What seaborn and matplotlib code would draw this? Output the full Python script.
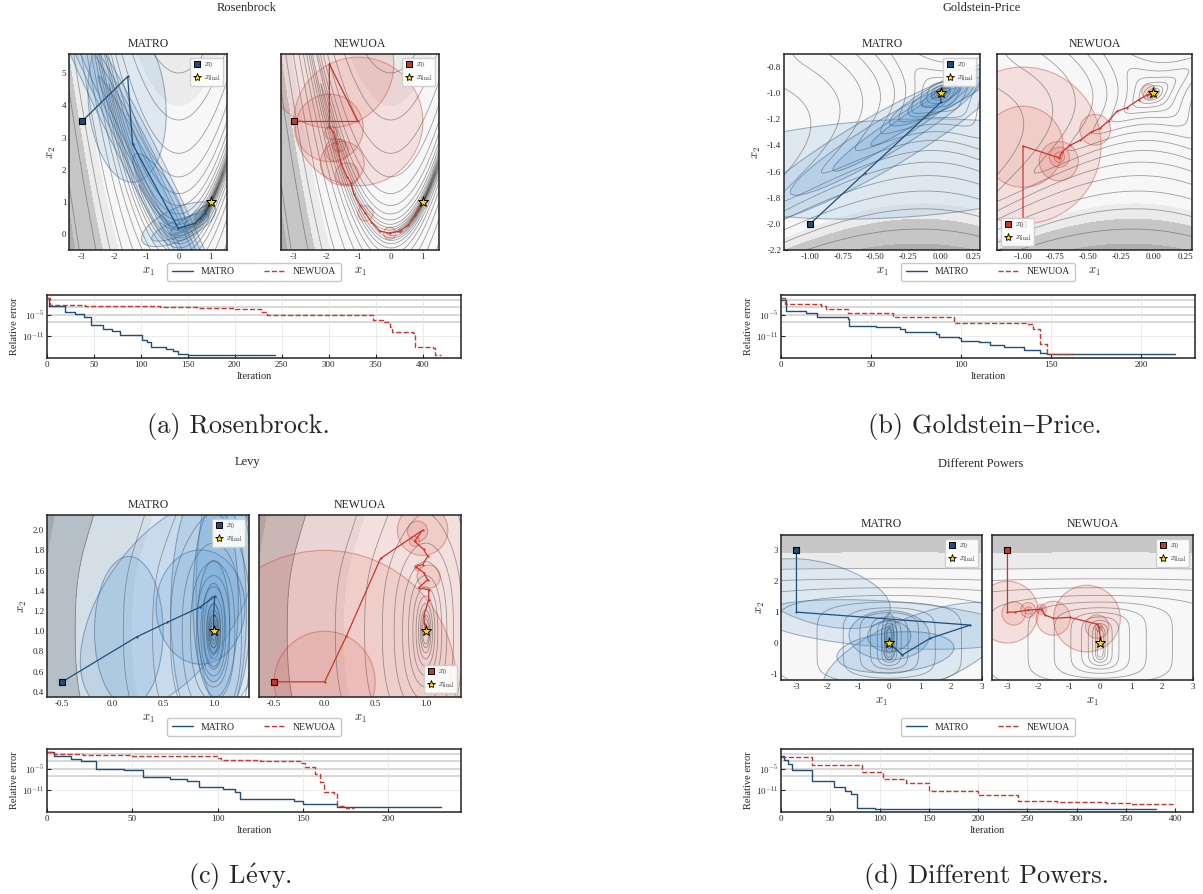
import numpy as np
import matplotlib
matplotlib.use("Agg")
import matplotlib.pyplot as plt
from matplotlib.patches import Ellipse, Circle
from matplotlib.lines import Line2D
from matplotlib.ticker import MultipleLocator, FormatStrFormatter
from matplotlib.colors import to_rgba
import seaborn as sns

sns.set_theme(style="ticks")
plt.rcParams['font.family'] = ['Liberation Serif', 'DejaVu Serif']
plt.rcParams['mathtext.fontset'] = 'cm'
plt.rcParams['axes.unicode_minus'] = False
plt.rcParams['xtick.direction'] = 'in'
plt.rcParams['ytick.direction'] = 'in'

BLUE = "#1f4e79"
BLUE_FILL = "#5b9bd5"
RED = "#c8372d"
RED_FILL = "#e06b60"
FILL_COLORS = ['#f7f7f7', '#ebebeb', '#c6c6c6', '#aeaeae']

# ---------------- Rosenbrock ----------------
ros_matro_x = [-3.0, -1.58, -1.43, -0.01, 0.50, 0.66, 0.82, 0.97, 1.0]
ros_matro_y = [3.5, 4.9, 2.8, 0.17, 0.33, 0.49, 0.64, 0.95, 1.0]
# trust regions: cx, cy, major, minor, angle
ros_matro_ell = [(-1.6, 4.1, 5.0, 2.4, 95), (-1.3, 2.6, 13.0, 1.15, -63),
                 (-1.2, 2.4, 12.0, 0.85, -63), (-1.1, 2.2, 10.0, 0.6, -63),
                 (-0.9, 1.8, 7.0, 0.4, -63), (-0.6, 1.3, 2.8, 0.8, -58),
                 (0.0, 0.3, 2.5, 1.0, 25), (0.05, 0.2, 1.9, 0.5, 22),
                 (0.35, 0.35, 1.4, 0.35, 30), (0.6, 0.55, 1.1, 0.3, 40),
                 (0.75, 0.7, 0.7, 0.2, 48), (0.9, 0.85, 0.35, 0.1, 55)]
ros_newuoa_x = [-3.0, -1.02, -1.9, -1.9, -1.78, -1.68, -1.62, -1.54, -1.35, -1.23,
                -1.14, -0.95, -0.78, -0.6, -0.34, -0.03, 0.29, 0.55, 0.76, 0.94, 1.0]
ros_newuoa_y = [3.5, 3.5, 5.29, 3.32, 3.18, 2.84, 2.6, 2.2, 1.78, 1.58,
                1.24, 0.9, 0.64, 0.38, 0.09, 0.02, 0.09, 0.28, 0.59, 0.95, 1.0]
ros_newuoa_circ = [(-1.0, 3.5, 2.0), (-1.9, 5.3, 2.0), (-1.9, 3.3, 1.05), (-1.85, 3.15, 0.2),
                   (-1.67, 2.6, 0.36), (-1.6, 2.75, 0.2), (-1.5, 2.2, 0.68), (-1.35, 1.85, 0.36),
                   (-0.78, 0.64, 0.24), (-0.03, 0.02, 0.19), (0.3, 0.1, 0.06)]
ros_it_matro = [0, 2, 19, 30, 39, 47, 60, 69, 78, 101, 106, 111, 127, 134, 140, 150, 243]
ros_err_matro = [-0.4, -2.5, -4.2, -4.8, -5.6, -7.9, -9.0, -9.5, -10.5, -12.0, -12.5,
                 -14.0, -14.5, -15.0, -15.8, -16.1, -16.1]
ros_it_newuoa = [0, 3, 40, 80, 120, 160, 200, 228, 234, 347, 358, 365, 368, 390, 392, 411, 413, 420]
ros_err_newuoa = [-0.4, -2.4, -2.5, -2.7, -2.9, -3.2, -3.5, -4.2, -5.2, -6.4, -6.9, -8.3,
                  -9.8, -10.2, -14.0, -14.2, -16.1, -16.1]

# ---------------- Goldstein-Price ----------------
gp_matro_x = [-1.0, -0.58, 0.0, 0.0]
gp_matro_y = [-2.0, -1.61, -1.07, -1.0]
gp_matro_ell = [(-0.4, -1.58, 3.2, 0.75, 3), (-0.5, -1.4, 2.3, 0.42, 30),
                (-0.42, -1.33, 1.7, 0.26, 31), (-0.3, -1.25, 1.25, 0.16, 33),
                (-0.2, -1.18, 0.8, 0.1, 33), (0.05, -1.0, 1.0, 0.2, 28),
                (0.0, -1.04, 0.55, 0.18, 25), (0.0, -1.02, 0.32, 0.1, 25),
                (0.0, -1.0, 0.15, 0.05, 25)]
gp_newuoa_x = [-1.0, -1.0, -0.72, -0.70, -0.64, -0.56, -0.48, -0.41, -0.34, -0.28,
               -0.2, -0.11, -0.05, 0.0]
gp_newuoa_y = [-2.0, -1.405, -1.495, -1.45, -1.40, -1.36, -1.30, -1.27, -1.21, -1.14,
               -1.11, -1.05, -1.015, -1.0]
gp_newuoa_circ = [(-1.0, -1.4, 0.6), (-1.0, -1.41, 0.31), (-0.725, -1.52, 0.15),
                  (-0.72, -1.49, 0.077), (-0.72, -1.49, 0.04), (-0.445, -1.28, 0.118),
                  (-0.03, -0.99, 0.056)]
gp_it_matro = [0, 3, 14, 20, 37, 38, 53, 66, 69, 86, 88, 99, 100, 110, 116, 124, 135, 144, 148, 219]
gp_err_matro = [-0.8, -3.9, -4.6, -5.6, -6.1, -8.1, -8.5, -9.0, -9.9, -10.4, -11.1, -11.5,
                -12.2, -12.6, -13.5, -14.0, -14.9, -15.5, -16.0, -16.0]
gp_it_newuoa = [0, 2, 22, 25, 37, 62, 96, 136, 140, 144, 148, 162]
gp_err_newuoa = [-0.4, -2.0, -2.5, -3.5, -4.5, -5.6, -7.2, -7.6, -9.0, -13.1, -16.0, -16.0]

# ---------------- Levy ----------------
levy_matro_x = [-0.5, 0.237, 0.543, 0.862, 1.01, 1.0, 1.0]
levy_matro_y = [0.5, 0.944, 1.09, 1.237, 1.345, 1.16, 1.0]
levy_matro_ell = [(0.3, 1.3, 3.6, 2.6, 70), (0.55, 1.25, 2.4, 1.3, 55),
                  (0.16, 1.0, 1.48, 0.68, 90), (1.1, 1.4, 2.4, 0.55, 90),
                  (0.95, 1.2, 2.6, 0.75, 90), (0.87, 1.24, 1.13, 0.88, 90),
                  (1.02, 1.3, 1.9, 0.45, 90), (1.0, 1.1, 1.2, 0.32, 90),
                  (1.0, 1.05, 0.85, 0.22, 90), (1.0, 1.02, 0.5, 0.13, 90),
                  (1.0, 1.0, 0.33, 0.09, 90), (1.0, 1.0, 0.18, 0.05, 90)]
levy_newuoa_x = [-0.5, 0.0, 0.214, 0.553, 0.97, 0.89, 0.98, 1.02, 0.97, 0.9, 0.98, 1.02,
                 0.93, 1.03, 1.03, 0.98, 0.99, 1.0]
levy_newuoa_y = [0.5, 0.5, 0.95, 1.72, 2.0, 1.89, 1.81, 1.74, 1.66, 1.64, 1.58, 1.51,
                 1.43, 1.41, 1.31, 1.15, 1.07, 1.0]
levy_newuoa_circ = [(0.2, 0.95, 2.6), (0.0, 0.5, 1.3), (0.0, 0.5, 0.5), (0.97, 2.0, 0.25),
                    (0.92, 1.99, 0.1), (0.89, 1.89, 0.05), (1.03, 1.54, 0.115),
                    (0.92, 1.63, 0.03)]
levy_it_matro = [0, 4, 14, 20, 29, 45, 56, 72, 82, 89, 103, 110, 113, 145, 150, 170, 175, 231]
levy_err_matro = [-0.4, -1.6, -2.2, -2.8, -5.0, -5.4, -7.4, -7.8, -8.5, -10.1, -10.5, -11.5,
                  -13.5, -13.9, -14.8, -15.5, -15.7, -15.7]
levy_it_newuoa = [0, 4, 21, 50, 100, 102, 125, 149, 151, 157, 160, 162, 168, 170, 175, 180]
levy_err_newuoa = [-0.4, -0.9, -1.3, -1.6, -2.0, -2.5, -3.0, -3.3, -4.6, -6.5, -8.7, -11.5,
                   -11.9, -15.4, -15.8, -15.8]

# ---------------- Different Powers ----------------
dp_matro_x = [-3.0, -3.0, 2.62, 1.32, 0.42, 0.0]
dp_matro_y = [3.0, 1.0, 0.58, 0.15, -0.39, 0.0]
dp_matro_ell = [(-2.2, 1.6, 4.6, 2.0, -15), (0.0, 0.6, 8.5, 1.5, -4),
                (0.9, -0.3, 6.5, 2.3, 22), (0.0, 0.25, 2.6, 1.6, 0),
                (0.2, -0.3, 3.8, 1.3, 5), (0.0, 0.22, 1.4, 1.0, 0),
                (0.0, 0.2, 1.5, 0.5, 90), (0.0, 0.2, 1.05, 0.3, 90),
                (0.0, 0.15, 0.7, 0.15, 90)]
dp_newuoa_x = [-3.0, -3.0, -2.77, -2.33, -1.9, -1.79, -1.52, -0.98, -0.1, -0.05, 0.0, 0.0]
dp_newuoa_y = [3.0, 1.0, 1.0, 1.07, 1.09, 0.91, 0.8, 0.83, 0.61, 0.53, 0.2, 0.0]
dp_newuoa_circ = [(-3.0, 1.0, 1.0), (-2.8, 0.96, 0.38), (-2.33, 1.07, 0.24), (-2.31, 1.05, 0.12),
                  (-1.9, 1.09, 0.16), (-1.9, 1.09, 0.08), (-1.52, 0.8, 0.55),
                  (-0.43, 0.79, 1.08), (-0.1, 0.53, 0.38), (-0.05, 0.5, 0.12)]
dp_it_matro = [0, 3, 7, 11, 31, 54, 65, 71, 77, 95, 108, 380]
dp_err_matro = [-1.5, -2.7, -3.6, -5.5, -8.4, -10.2, -11.1, -12.0, -15.8, -16.1, -16.3, -16.3]
dp_it_newuoa = [0, 31, 82, 103, 127, 150, 200, 240, 280, 330, 355, 398]
dp_err_newuoa = [-1.7, -3.9, -6.0, -7.9, -9.1, -11.3, -12.2, -14.0, -14.3, -14.6, -14.9, -14.9]


def rosenbrock(x, y):
    return (1 - x) ** 2 + 100 * (y - x ** 2) ** 2


def goldstein_price(x, y):
    a = 1 + (x + y + 1) ** 2 * (19 - 14 * x + 3 * x ** 2 - 14 * y + 6 * x * y + 3 * y ** 2)
    b = 30 + (2 * x - 3 * y) ** 2 * (18 - 32 * x + 12 * x ** 2 + 48 * y - 36 * x * y + 27 * y ** 2)
    return a * b


def levy(x, y):
    w1 = 1 + (x - 1) / 4
    w2 = 1 + (y - 1) / 4
    return (np.sin(np.pi * w1) ** 2 + (w1 - 1) ** 2 * (1 + 10 * np.sin(np.pi * w1 + 1) ** 2)
            + (w2 - 1) ** 2 * (1 + np.sin(2 * np.pi * w2) ** 2))


def different_powers(x, y):
    return np.abs(x) ** 2 + np.abs(y) ** 6


panels = [
    dict(title="Rosenbrock", caption="(a) Rosenbrock.", func=rosenbrock,
         xlim=(-3.4, 1.5), ylim=(-0.5, 5.6), xticks=[-3, -2, -1, 0, 1], yticks=[0, 1, 2, 3, 4, 5],
         xfmt='%d', yfmt='%d', fill=[0, 1600, 3700, 11800, 1e12], lines=np.logspace(-2, 4, 21),
         matro=(ros_matro_x, ros_matro_y, ros_matro_ell), newuoa=(ros_newuoa_x, ros_newuoa_y, ros_newuoa_circ),
         conv=(ros_it_matro, ros_err_matro, ros_it_newuoa, ros_err_newuoa), xstar=(1, 1),
         leg_loc=('upper right', 'upper right'),
         box_m=(69, 54, 227, 250), box_n=(281, 54, 439, 250), box_c=(47, 295, 461, 358),
         title_xy=(247, 8), sub_y=44, legend_xy=(254, 272), cap_xy=(238, 427)),
    dict(title="Goldstein-Price", caption="(b) Goldstein\u2013Price.", func=goldstein_price,
         xlim=(-1.2, 0.3), ylim=(-2.2, -0.7), xticks=[-1.0, -0.75, -0.5, -0.25, 0.0, 0.25],
         yticks=[-2.2, -2.0, -1.8, -1.6, -1.4, -1.2, -1.0, -0.8], xfmt='%.2f', yfmt='%.1f',
         fill=[0, 29000, 57000, 150000, 1e15], lines=3 + np.logspace(-1, 5.3, 18),
         matro=(gp_matro_x, gp_matro_y, gp_matro_ell), newuoa=(gp_newuoa_x, gp_newuoa_y, gp_newuoa_circ),
         conv=(gp_it_matro, gp_err_matro, gp_it_newuoa, gp_err_newuoa), xstar=(0, -1),
         leg_loc=('upper right', 'lower left'),
         box_m=(784, 54, 980, 250), box_n=(997, 54, 1192, 250), box_c=(781, 295, 1195, 358),
         title_xy=(982, 8), sub_y=44, legend_xy=(988, 272), cap_xy=(985, 427)),
    dict(title="Levy", caption="(c) L$\\acute{\\mathrm{e}}$vy.", func=levy,
         xlim=(-0.65, 1.35), ylim=(0.35, 2.15), xticks=[-0.5, 0.0, 0.5, 1.0],
         yticks=[0.4, 0.6, 0.8, 1.0, 1.2, 1.4, 1.6, 1.8, 2.0], xfmt='%.1f', yfmt='%.1f',
         fill=[0, 0.45, 0.9, 1.3, 100], lines=np.logspace(-3, 0.2, 14),
         matro=(levy_matro_x, levy_matro_y, levy_matro_ell), newuoa=(levy_newuoa_x, levy_newuoa_y, levy_newuoa_circ),
         conv=(levy_it_matro, levy_err_matro, levy_it_newuoa, levy_err_newuoa), xstar=(1, 1),
         leg_loc=('upper right', 'lower right'),
         box_m=(47, 515, 249, 697), box_n=(259, 515, 461, 697), box_c=(47, 749, 461, 812),
         title_xy=(247, 462), sub_y=505, legend_xy=(254, 727), cap_xy=(240, 877)),
    dict(title="Different Powers", caption="(d) Different Powers.", func=different_powers,
         xlim=(-3.5, 3.0), ylim=(-1.2, 3.5), xticks=[-3, -2, -1, 0, 1, 2, 3], yticks=[-1, 0, 1, 2, 3],
         xfmt='%d', yfmt='%d', fill=[0, 220, 660, 1e12], lines=np.logspace(-2, 2.3, 12),
         matro=(dp_matro_x, dp_matro_y, dp_matro_ell), newuoa=(dp_newuoa_x, dp_newuoa_y, dp_newuoa_circ),
         conv=(dp_it_matro, dp_err_matro, dp_it_newuoa, dp_err_newuoa), xstar=(0, 0),
         leg_loc=('upper right', 'upper right'),
         box_m=(781, 535, 982, 680), box_n=(992, 535, 1193, 680), box_c=(781, 749, 1193, 812),
         title_xy=(981, 464), sub_y=524, legend_xy=(988, 727), cap_xy=(987, 877)),
]

W, H = 1203, 894
fig = plt.figure(figsize=(W / 100, H / 100), dpi=100)


def px_axes(box):
    l, t, r, b = box
    return fig.add_axes([l / W, 1 - b / H, (r - l) / W, (b - t) / H])


def style_axes(ax):
    ax.tick_params(labelsize=6.5, length=3, width=0.8, direction='in', pad=2)
    for s in ax.spines.values():
        s.set_linewidth(1.1)
        s.set_color('#222222')


def landscape(ax, p):
    gx = np.linspace(p['xlim'][0], p['xlim'][1], 400)
    gy = np.linspace(p['ylim'][0], p['ylim'][1], 400)
    X, Y = np.meshgrid(gx, gy)
    Z = p['func'](X, Y)
    ax.contourf(X, Y, Z, levels=p['fill'], colors=FILL_COLORS[:len(p['fill']) - 1])
    ax.contour(X, Y, Z, levels=p['lines'], colors='#555555', linewidths=0.6, alpha=0.55)


for p in panels:
    fig.text(p['title_xy'][0] / W, 1 - p['title_xy'][1] / H, p['title'], ha='center', va='center', fontsize=9)
    for key, box, color, fillc in (('matro', p['box_m'], BLUE, BLUE_FILL), ('newuoa', p['box_n'], RED, RED_FILL)):
        ax = px_axes(box)
        landscape(ax, p)
        xs, ys, regions = p[key]
        for reg in regions:
            if key == 'matro':
                patch = Ellipse((reg[0], reg[1]), reg[2], reg[3], angle=reg[4])
            else:
                patch = Circle((reg[0], reg[1]), reg[2])
            patch.set_facecolor(to_rgba(fillc, 0.16))
            patch.set_edgecolor(to_rgba(color, 0.4))
            patch.set_linewidth(0.8)
            ax.add_patch(patch)
        sns.lineplot(x=xs, y=ys, sort=False, estimator=None, ax=ax, color=color, lw=0.9,
                     marker='o', markersize=1.6, markeredgewidth=0)
        ax.plot(xs[0], ys[0], marker='s', ms=5, mfc=color, mec='black', mew=0.8, ls='')
        ax.plot(p['xstar'][0], p['xstar'][1], marker='*', ms=8, mfc='#FFD700', mec='black', mew=0.7, ls='')
        ax.set_xlim(p['xlim'])
        ax.set_ylim(p['ylim'])
        ax.set_xticks(p['xticks'])
        ax.set_yticks(p['yticks'])
        ax.xaxis.set_major_formatter(FormatStrFormatter(p['xfmt']))
        ax.yaxis.set_major_formatter(FormatStrFormatter(p['yfmt']))
        style_axes(ax)
        ax.set_xlabel(r'$x_1$', fontsize=9, labelpad=4)
        if key == 'matro':
            ax.set_ylabel(r'$x_2$', fontsize=9, labelpad=3)
        else:
            ax.set_yticklabels([])
        cx = (box[0] + box[2]) / 2
        fig.text(cx / W, 1 - p['sub_y'] / H, key.upper(), ha='center', va='center', fontsize=8.5)
        loc = p['leg_loc'][0 if key == 'matro' else 1]
        hnd = [Line2D([], [], marker='s', ls='', mfc=color, mec='black', ms=4, mew=0.7),
               Line2D([], [], marker='*', ls='', mfc='#FFD700', mec='black', ms=6, mew=0.6)]
        ax.legend(hnd, [r'$x_0$', r'$x_{\rm final}$'], loc=loc, fontsize=5.5, handlelength=1,
                  handletextpad=0.4, borderpad=0.4, labelspacing=0.45, framealpha=0.9,
                  edgecolor='#cccccc', fancybox=True)

    lh = [Line2D([], [], color=BLUE, lw=1.0), Line2D([], [], color=RED, lw=1.0, ls='--')]
    fig.legend(lh, ['MATRO', 'NEWUOA'], loc='center', ncol=2, fontsize=7, handlelength=2.2,
               columnspacing=3.0, borderpad=0.45, edgecolor='#bbbbbb',
               bbox_to_anchor=(p['legend_xy'][0] / W, 1 - p['legend_xy'][1] / H))

    # convergence plot
    axc = px_axes(p['box_c'])
    it_m, er_m, it_n, er_n = p['conv']
    for thr in (1e-1, 1e-3, 1e-5, 1e-7):
        axc.axhline(thr, color='#d4d4d4', lw=1.3, zorder=0)
    axc.axhline(1e-11, color='#ebebeb', lw=0.7, zorder=0)
    sns.lineplot(x=it_m, y=10.0 ** np.array(er_m), ax=axc, color=BLUE, lw=1.0, drawstyle='steps-post',
                 estimator=None)
    sns.lineplot(x=it_n, y=10.0 ** np.array(er_n), ax=axc, color=RED, lw=1.0, ls='--',
                 drawstyle='steps-post', estimator=None)
    axc.set_yscale('log')
    axc.set_ylim(1e-17, 10 ** 0.45)
    xmax = max(it_m[-1], it_n[-1]) * 1.05
    axc.set_xlim(0, xmax)
    axc.xaxis.set_major_locator(MultipleLocator(50))
    axc.set_yticks([1e-11, 1e-5])
    axc.set_yticklabels([r'$10^{-11}$', r'$10^{-5}$'])
    axc.yaxis.set_minor_locator(plt.NullLocator())
    axc.grid(axis='x', color='#e8e8e8', lw=0.6)
    style_axes(axc)
    axc.set_xlabel('Iteration', fontsize=7.5, labelpad=2)
    axc.set_ylabel('Relative error', fontsize=7.5, labelpad=2)

    fig.text(p['cap_xy'][0] / W, 1 - p['cap_xy'][1] / H, p['caption'], ha='center', va='center',
             fontsize=19, family=['cmr10', 'DejaVu Serif'])

fig.savefig("out.png", dpi=100)
